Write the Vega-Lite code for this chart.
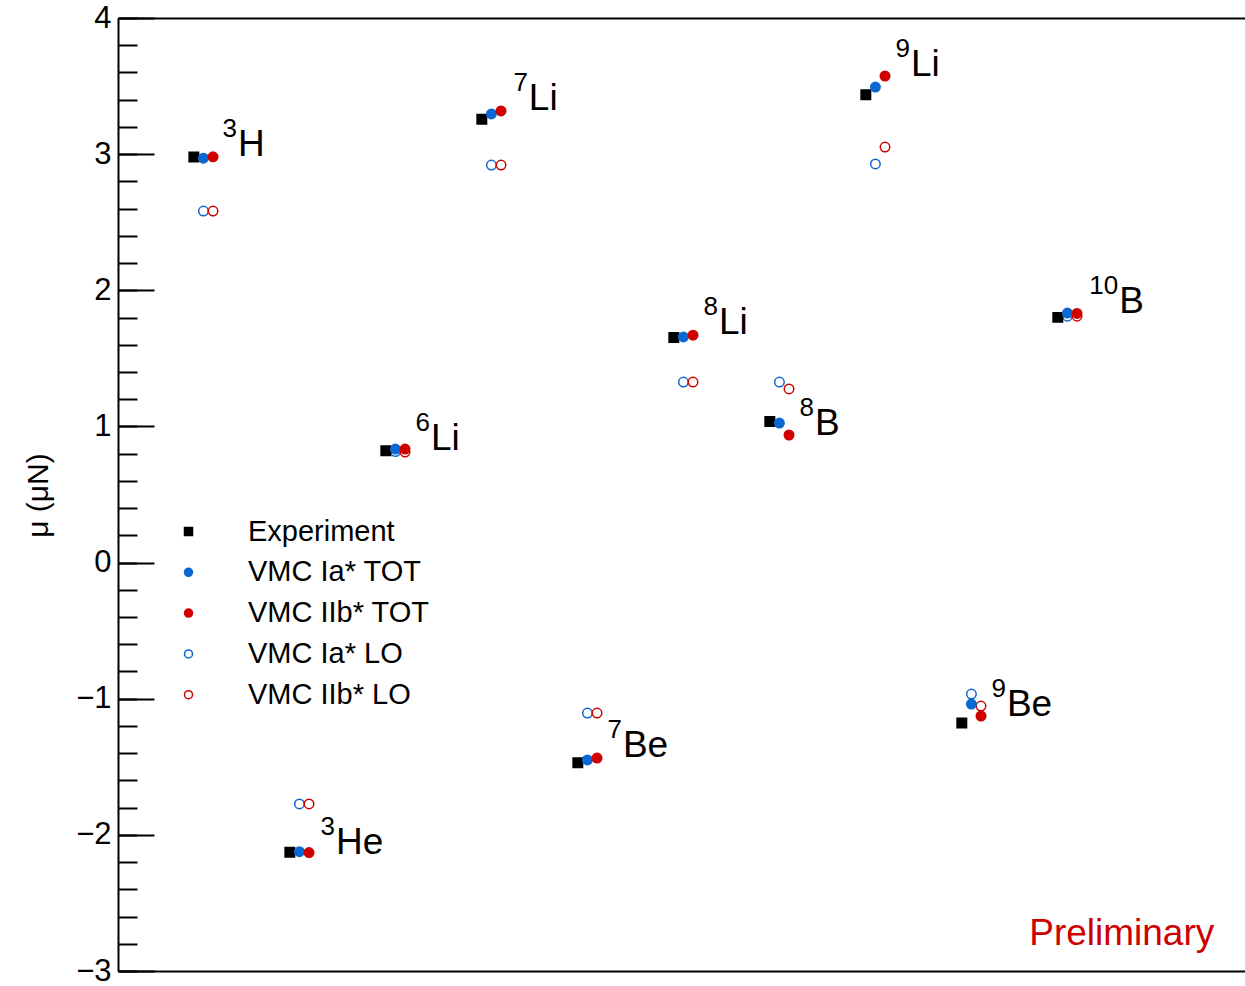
{
  "$schema": "https://vega.github.io/schema/vega-lite/v6.json",
  "width": 1127,
  "height": 953,
  "autosize": "none",
  "padding": {"left": 118, "top": 18, "right": 0, "bottom": 15},
  "background": "white",
  "config": {"view": {"stroke": null}, "axis": {"grid": false}, "font": "Liberation Sans"},
  "datasets": {
    "pts": [
      {"nucleus": "3H", "series": "VMC Ia* LO", "x": 0.9, "mu": 2.582},
      {"nucleus": "3H", "series": "VMC IIb* LO", "x": 1.0, "mu": 2.582},
      {"nucleus": "3He", "series": "VMC Ia* LO", "x": 1.9, "mu": -1.773},
      {"nucleus": "3He", "series": "VMC IIb* LO", "x": 2.0, "mu": -1.773},
      {"nucleus": "6Li", "series": "VMC Ia* LO", "x": 2.9, "mu": 0.815},
      {"nucleus": "6Li", "series": "VMC IIb* LO", "x": 3.0, "mu": 0.812},
      {"nucleus": "7Li", "series": "VMC Ia* LO", "x": 3.9, "mu": 2.92},
      {"nucleus": "7Li", "series": "VMC IIb* LO", "x": 4.0, "mu": 2.92},
      {"nucleus": "7Be", "series": "VMC Ia* LO", "x": 4.9, "mu": -1.105},
      {"nucleus": "7Be", "series": "VMC IIb* LO", "x": 5.0, "mu": -1.105},
      {"nucleus": "8Li", "series": "VMC Ia* LO", "x": 5.9, "mu": 1.326},
      {"nucleus": "8Li", "series": "VMC IIb* LO", "x": 6.0, "mu": 1.326},
      {"nucleus": "8B", "series": "VMC Ia* LO", "x": 6.9, "mu": 1.326},
      {"nucleus": "8B", "series": "VMC IIb* LO", "x": 7.0, "mu": 1.275},
      {"nucleus": "9Li", "series": "VMC Ia* LO", "x": 7.9, "mu": 2.928},
      {"nucleus": "9Li", "series": "VMC IIb* LO", "x": 8.0, "mu": 3.052},
      {"nucleus": "9Be", "series": "VMC Ia* LO", "x": 8.9, "mu": -0.966},
      {"nucleus": "9Be", "series": "VMC IIb* LO", "x": 9.0, "mu": -1.054},
      {"nucleus": "10B", "series": "VMC Ia* LO", "x": 9.9, "mu": 1.81},
      {"nucleus": "10B", "series": "VMC IIb* LO", "x": 10.0, "mu": 1.81},
      {"nucleus": "3H", "series": "Experiment", "x": 0.8, "mu": 2.979},
      {"nucleus": "3He", "series": "Experiment", "x": 1.8, "mu": -2.128},
      {"nucleus": "6Li", "series": "Experiment", "x": 2.8, "mu": 0.822},
      {"nucleus": "7Li", "series": "Experiment", "x": 3.8, "mu": 3.256},
      {"nucleus": "7Be", "series": "Experiment", "x": 4.8, "mu": -1.47},
      {"nucleus": "8Li", "series": "Experiment", "x": 5.8, "mu": 1.654},
      {"nucleus": "8B", "series": "Experiment", "x": 6.8, "mu": 1.036},
      {"nucleus": "9Li", "series": "Experiment", "x": 7.8, "mu": 3.437},
      {"nucleus": "9Be", "series": "Experiment", "x": 8.8, "mu": -1.178},
      {"nucleus": "10B", "series": "Experiment", "x": 9.8, "mu": 1.801},
      {"nucleus": "3H", "series": "VMC Ia* TOT", "x": 0.9, "mu": 2.97},
      {"nucleus": "3He", "series": "VMC Ia* TOT", "x": 1.9, "mu": -2.124},
      {"nucleus": "6Li", "series": "VMC Ia* TOT", "x": 2.9, "mu": 0.834},
      {"nucleus": "7Li", "series": "VMC Ia* TOT", "x": 3.9, "mu": 3.295},
      {"nucleus": "7Be", "series": "VMC Ia* TOT", "x": 4.9, "mu": -1.45},
      {"nucleus": "8Li", "series": "VMC Ia* TOT", "x": 5.9, "mu": 1.657},
      {"nucleus": "8B", "series": "VMC Ia* TOT", "x": 6.9, "mu": 1.025},
      {"nucleus": "9Li", "series": "VMC Ia* TOT", "x": 7.9, "mu": 3.493},
      {"nucleus": "9Be", "series": "VMC Ia* TOT", "x": 8.9, "mu": -1.039},
      {"nucleus": "10B", "series": "VMC Ia* TOT", "x": 9.9, "mu": 1.833},
      {"nucleus": "3H", "series": "VMC IIb* TOT", "x": 1.0, "mu": 2.98},
      {"nucleus": "3He", "series": "VMC IIb* TOT", "x": 2.0, "mu": -2.13},
      {"nucleus": "6Li", "series": "VMC IIb* TOT", "x": 3.0, "mu": 0.834},
      {"nucleus": "7Li", "series": "VMC IIb* TOT", "x": 4.0, "mu": 3.317},
      {"nucleus": "7Be", "series": "VMC IIb* TOT", "x": 5.0, "mu": -1.436},
      {"nucleus": "8Li", "series": "VMC IIb* TOT", "x": 6.0, "mu": 1.67},
      {"nucleus": "8B", "series": "VMC IIb* TOT", "x": 7.0, "mu": 0.937},
      {"nucleus": "9Li", "series": "VMC IIb* TOT", "x": 8.0, "mu": 3.574},
      {"nucleus": "9Be", "series": "VMC IIb* TOT", "x": 9.0, "mu": -1.127},
      {"nucleus": "10B", "series": "VMC IIb* TOT", "x": 10.0, "mu": 1.83}
    ],
    "labels": [
      {"el": "H", "mass": "3", "x": 1.26, "y": 2.986},
      {"el": "He", "mass": "3", "x": 2.28, "y": -2.141},
      {"el": "Li", "mass": "6", "x": 3.27, "y": 0.827},
      {"el": "Li", "mass": "7", "x": 4.29, "y": 3.324},
      {"el": "Be", "mass": "7", "x": 5.27, "y": -1.428},
      {"el": "Li", "mass": "8", "x": 6.27, "y": 1.679},
      {"el": "B", "mass": "8", "x": 7.27, "y": 0.937},
      {"el": "Li", "mass": "9", "x": 8.27, "y": 3.574},
      {"el": "Be", "mass": "9", "x": 9.27, "y": -1.127},
      {"el": "B", "mass": "10", "x": 10.44, "y": 1.833}
    ],
    "notes": [
      {"t": "Preliminary", "x": 11.43, "y": -2.81}
    ]
  },
  "layer": [
    {
      "data": {"name": "pts"},
      "mark": {"type": "point", "size": 90, "strokeWidth": 1.5, "opacity": 1},
      "encoding": {
        "x": {"field": "x", "type": "quantitative",
          "scale": {"domain": [0.01, 11.75], "nice": false, "zero": false},
          "axis": {"orient": "bottom", "domain": true, "domainColor": "black", "domainWidth": 2, "ticks": false, "labels": false, "title": null, "grid": false}},
        "y": {"field": "mu", "type": "quantitative",
          "scale": {"domain": [-3, 4], "nice": false, "zero": false},
          "axis": {"orient": "left", "values": [-3, -2, -1, 0, 1, 2, 3, 4], "tickSize": -36, "tickWidth": 2, "tickColor": "black",
            "domain": true, "domainColor": "black", "domainWidth": 2,
            "labelFontSize": 31, "labelFont": "Liberation Sans", "labelColor": "black", "labelPadding": 43,
            "labelFlush": false, "labelOverlap": false, "grid": false,
            "title": "μ (μN)", "titleFontSize": 30, "titleFontWeight": "normal", "titleFont": "Liberation Sans", "titleColor": "black",
            "titleX": -80, "titleY": 477, "titleAngle": 270, "titleAlign": "center", "titleBaseline": "middle"}},
        "fill": {"field": "series", "type": "nominal",
          "scale": {"domain": ["Experiment", "VMC Ia* TOT", "VMC IIb* TOT", "VMC Ia* LO", "VMC IIb* LO"], "range": ["black", "#0a68d0", "#d00000", "transparent", "transparent"]},
          "legend": {"orient": "none", "legendX": 56, "legendY": 499, "title": null, "labelFontSize": 29, "labelFont": "Liberation Sans", "labelColor": "black", "symbolSize": 64, "symbolStrokeWidth": 1.5, "labelOffset": 45, "rowPadding": 10.8, "padding": 0, "labelLimit": 400}},
        "stroke": {"field": "series", "type": "nominal",
          "scale": {"domain": ["Experiment", "VMC Ia* TOT", "VMC IIb* TOT", "VMC Ia* LO", "VMC IIb* LO"], "range": ["black", "#0a68d0", "#d00000", "#0a68d0", "#d00000"]},
          "legend": {"orient": "none", "legendX": 56, "legendY": 499, "title": null, "labelFontSize": 29, "labelFont": "Liberation Sans", "labelColor": "black", "symbolSize": 64, "symbolStrokeWidth": 1.5, "labelOffset": 45, "rowPadding": 10.8, "padding": 0, "labelLimit": 400}},
        "shape": {"field": "series", "type": "nominal",
          "scale": {"domain": ["Experiment", "VMC Ia* TOT", "VMC IIb* TOT", "VMC Ia* LO", "VMC IIb* LO"], "range": ["square", "circle", "circle", "circle", "circle"]},
          "legend": {"orient": "none", "legendX": 56, "legendY": 499, "title": null, "labelFontSize": 29, "labelFont": "Liberation Sans", "labelColor": "black", "symbolSize": 64, "symbolStrokeWidth": 1.5, "labelOffset": 45, "rowPadding": 10.8, "padding": 0, "labelLimit": 400}}
      }
    },
    {
      "data": {"name": "labels"},
      "mark": {"type": "text", "align": "left", "baseline": "alphabetic", "fontSize": 37, "font": "Liberation Sans", "color": "black"},
      "encoding": {
        "x": {"field": "x", "type": "quantitative",
          "scale": {"domain": [0.01, 11.75], "nice": false, "zero": false},
          "axis": {"orient": "top", "domain": true, "domainColor": "black", "domainWidth": 2, "ticks": false, "labels": false, "title": null, "grid": false}},
        "y": {"field": "y", "type": "quantitative",
          "scale": {"domain": [-3, 4], "nice": false, "zero": false},
          "axis": {"orient": "left", "values": [-3, -2.8, -2.6, -2.4, -2.2, -2, -1.8, -1.6, -1.4, -1.2, -1, -0.8, -0.6, -0.4, -0.2, 0, 0.2, 0.4, 0.6, 0.8, 1, 1.2, 1.4, 1.6, 1.8, 2, 2.2, 2.4, 2.6, 2.8, 3, 3.2, 3.4, 3.6, 3.8, 4],
            "tickSize": -19, "tickWidth": 2, "tickColor": "black", "domain": false, "labels": false, "title": null, "grid": false}},
        "text": {"field": "el", "type": "nominal"}
      }
    },
    {
      "data": {"name": "labels"},
      "mark": {"type": "text", "align": "right", "baseline": "alphabetic", "fontSize": 26, "font": "Liberation Sans", "color": "black", "dx": -1, "dy": -19},
      "encoding": {
        "x": {"field": "x", "type": "quantitative", "scale": {"domain": [0.01, 11.75], "nice": false, "zero": false}, "axis": null},
        "y": {"field": "y", "type": "quantitative", "scale": {"domain": [-3, 4], "nice": false, "zero": false}, "axis": null},
        "text": {"field": "mass", "type": "nominal"}
      }
    },
    {
      "data": {"name": "notes"},
      "mark": {"type": "text", "align": "right", "baseline": "alphabetic", "fontSize": 37, "font": "Liberation Sans", "color": "#cc0000"},
      "encoding": {
        "x": {"field": "x", "type": "quantitative", "scale": {"domain": [0.01, 11.75], "nice": false, "zero": false}, "axis": null},
        "y": {"field": "y", "type": "quantitative", "scale": {"domain": [-3, 4], "nice": false, "zero": false}, "axis": null},
        "text": {"field": "t", "type": "nominal"}
      }
    }
  ],
  "resolve": {"axis": {"x": "independent", "y": "independent"}}
}
